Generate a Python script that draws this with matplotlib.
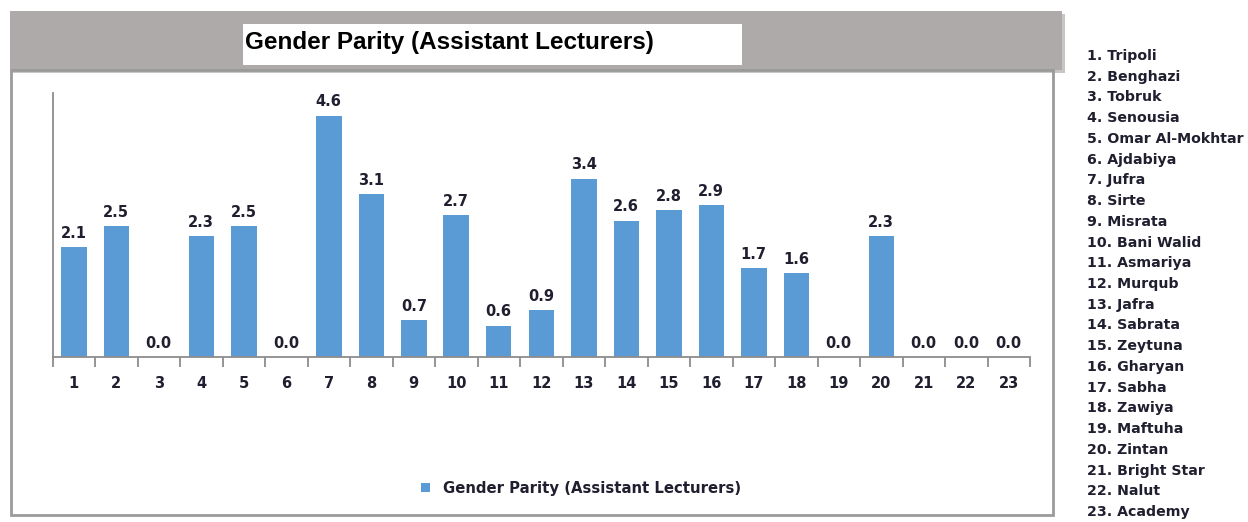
import matplotlib
matplotlib.use("Agg")
import matplotlib.pyplot as plt
from matplotlib.patches import Rectangle
import numpy as np

plt.rcParams['font.family'] = ['DejaVu Sans']

categories = [str(i) for i in range(1, 24)]
values = [2.1, 2.5, 0.0, 2.3, 2.5, 0.0, 4.6, 3.1, 0.7, 2.7, 0.6, 0.9,
          3.4, 2.6, 2.8, 2.9, 1.7, 1.6, 0.0, 2.3, 0.0, 0.0, 0.0]
names = ["Tripoli", "Benghazi", "Tobruk", "Senousia", "Omar Al-Mokhtar",
         "Ajdabiya", "Jufra", "Sirte", "Misrata", "Bani Walid", "Asmariya",
         "Murqub", "Jafra", "Sabrata", "Zeytuna", "Gharyan", "Sabha",
         "Zawiya", "Maftuha", "Zintan", "Bright Star", "Nalut", "Academy"]
title = "Gender Parity (Assistant Lecturers)"
series_name = "Gender Parity (Assistant Lecturers)"

W, H = 1248, 522
fig = plt.figure(figsize=(W / 100, H / 100), dpi=100)

def fx(px):
    return px / W

def fy(py):
    return 1 - py / H

# Header band (with shadow)
fig.patches.append(Rectangle((fx(13), fy(73)), fx(1052) - fx(0), (73 - 14) / H,
                             transform=fig.transFigure, facecolor='#c8c6c5',
                             edgecolor='none', zorder=0))
fig.patches.append(Rectangle((fx(10), fy(70)), fx(1062) - fx(10), (70 - 11) / H,
                             transform=fig.transFigure, facecolor='#aeaaa9',
                             edgecolor='none', zorder=1))
# Title white box
fig.patches.append(Rectangle((fx(243), fy(65)), fx(742) - fx(243), (65 - 24) / H,
                             transform=fig.transFigure, facecolor='white',
                             edgecolor='none', zorder=2))
fig.text(fx(245), fy(43), title, ha='left', va='center', fontsize=17.5,
         fontweight='bold', color='black', zorder=3,
         family=['Liberation Sans', 'DejaVu Sans'])
# Frame below header
fig.patches.append(Rectangle((fx(10.5), fy(515)), fx(1052.5) - fx(10.5), (515 - 70) / H,
                             transform=fig.transFigure, facecolor='none',
                             edgecolor='#9a9a9a', linewidth=2.0, zorder=1))

ax = fig.add_axes([fx(52.5), fy(357), fx(1030) - fx(52.5), (357 - 93) / H])
x = np.arange(len(values))
bars = ax.bar(x, values, width=0.6, color='#5b9bd5', label=series_name, zorder=2)
ax.set_xlim(-0.5, len(values) - 0.5)
ax.set_ylim(0, 5.03)

for xi, v in zip(x, values):
    ax.annotate(f"{v:.1f}", (xi, v), xytext=(0, 4.5), textcoords='offset points',
                ha='center', va='bottom', fontsize=10.5, fontweight='bold',
                color='#1f1f2f')

for s in ['top', 'right']:
    ax.spines[s].set_visible(False)
ax.spines['left'].set_color('#8c8c8c')
ax.spines['bottom'].set_color('#8c8c8c')
ax.spines['left'].set_linewidth(1.3)
ax.spines['bottom'].set_linewidth(1.3)
ax.set_yticks([])
ax.set_xticks(x)
ax.set_xticklabels(categories, fontsize=10.5, fontweight='bold', color='#1f1f2f')
ax.tick_params(axis='x', which='major', length=0, pad=14)
ax.set_xticks(np.arange(-0.5, len(values), 1.0), minor=True)
ax.tick_params(axis='x', which='minor', length=7, width=1.3, color='#8c8c8c',
               direction='out')

leg = fig.legend(handles=[bars], labels=[series_name], loc='center',
                 bbox_to_anchor=(fx(581), fy(488)), frameon=False,
                 handlelength=0.6, handleheight=0.6, handletextpad=0.9,
                 prop={'size': 10.7, 'weight': 'bold'})
for t in leg.get_texts():
    t.set_color('#1f1f2f')

# Right-side key list
y0, y1 = 56, 512
for i, nm in enumerate(names):
    yy = y0 + (y1 - y0) * i / (len(names) - 1)
    fig.text(fx(1087), fy(yy), f"{i + 1}. {nm}", ha='left', va='center',
             fontsize=10.2, fontweight='bold', color='#1f1f2f')

fig.savefig("out.png", dpi=100)
